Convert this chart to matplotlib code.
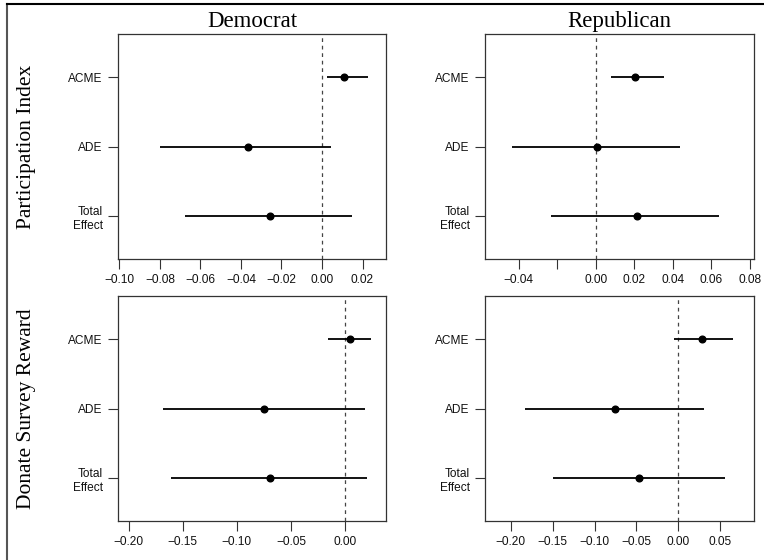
import matplotlib
matplotlib.use("Agg")
import matplotlib.pyplot as plt
from matplotlib.lines import Line2D

W, H = 764, 560
effects = ["ACME", "ADE", "Total\nEffect"]
parties = ["Democrat", "Republican"]
outcomes = ["Participation Index", "Donate Survey Reward"]

# Participation Index
dem_part_est = [0.011, -0.0365, -0.0257]
dem_part_lo = [0.0025, -0.0798, -0.0677]
dem_part_hi = [0.0226, 0.0046, 0.0148]
rep_part_est = [0.0205, 0.0008, 0.0214]
rep_part_lo = [0.0079, -0.0435, -0.0232]
rep_part_hi = [0.0352, 0.0438, 0.0640]
# Donate Survey Reward
dem_don_est = [0.0046, -0.0746, -0.0695]
dem_don_lo = [-0.0155, -0.168, -0.1605]
dem_don_hi = [0.0244, 0.0186, 0.0200]
rep_don_est = [0.0286, -0.0759, -0.0469]
rep_don_lo = [-0.0051, -0.183, -0.150]
rep_don_hi = [0.0649, 0.0303, 0.0557]

dem_part_ticks = [-0.10, -0.08, -0.06, -0.04, -0.02, 0.00, 0.02]
rep_part_ticks = [-0.04, -0.02, 0.00, 0.02, 0.04, 0.06, 0.08]
rep_part_labels = ["-0.04", "", "0.00", "0.02", "0.04", "0.06", "0.08"]
dem_don_ticks = [-0.20, -0.15, -0.10, -0.05, 0.00]
rep_don_ticks = [-0.20, -0.15, -0.10, -0.05, 0.00, 0.05]

panels = [
    (0, 0, dem_part_est, dem_part_lo, dem_part_hi, (-0.1007, 0.0316), dem_part_ticks, None),
    (0, 1, rep_part_est, rep_part_lo, rep_part_hi, (-0.0574, 0.0819), rep_part_ticks, rep_part_labels),
    (1, 0, dem_don_est, dem_don_lo, dem_don_hi, (-0.210, 0.038), dem_don_ticks, None),
    (1, 1, rep_don_est, rep_don_lo, rep_don_hi, (-0.2307, 0.0900), rep_don_ticks, None),
]

fig = plt.figure(figsize=(W / 100, H / 100), dpi=100)

lefts = [118, 485]
rights = [386, 753.7]
tops = [34, 296]
bottoms = [259, 521]

sans = "Liberation Sans"
serif = "Liberation Serif"
ypos = [3, 2, 1]

for r, c, est, lo, hi, xlim, ticks, labels in panels:
    ax = fig.add_axes([lefts[c] / W, 1 - bottoms[r] / H,
                       (rights[c] - lefts[c]) / W, (bottoms[r] - tops[r]) / H])
    ax.axvline(0, color="#444444", lw=0.9, ls=(0, (3, 3)), zorder=1)
    for y, e, l, h in zip(ypos, est, lo, hi):
        ax.plot([l, h], [y, y], color="black", lw=1.3, solid_capstyle="butt", zorder=2)
    ax.plot(est, ypos, "o", color="black", ms=4.8, zorder=3)
    ax.set_xlim(*xlim)
    ax.set_ylim(0.386, 3.623)
    ax.set_yticks(ypos)
    ax.set_yticklabels(effects)
    ax.set_xticks(ticks)
    if labels is None:
        labels = ["%.2f" % t for t in ticks]
    ax.set_xticklabels([s.replace("-", "\u2212") for s in labels])
    for lab in ax.get_xticklabels() + ax.get_yticklabels():
        lab.set_fontfamily(sans)
        lab.set_fontsize(8.6)
        lab.set_color("#111111")
    ax.tick_params(axis="both", length=7, width=0.8, color="#333333", pad=4)
    for s in ax.spines.values():
        s.set_linewidth(0.9)
        s.set_color("#333333")

for c, t in enumerate(parties):
    fig.text((lefts[c] + rights[c]) / 2 / W, 1 - 27 / H, t, ha="center", va="baseline",
             fontfamily=serif, fontsize=16.5)
for r, t in enumerate(outcomes):
    fig.text(27 / W, 1 - (tops[r] + bottoms[r]) / 2 / H, t, ha="center", va="center",
             rotation=90, fontfamily=serif, fontsize=15.5)

fig.add_artist(Line2D([7 / W, 7 / W], [0, 1 - 4 / H], transform=fig.transFigure,
                      color="#555555", lw=1.5))
fig.add_artist(Line2D([7 / W, 1], [1 - 4 / H, 1 - 4 / H], transform=fig.transFigure,
                      color="black", lw=1.5))

fig.savefig("out.png", dpi=100)
